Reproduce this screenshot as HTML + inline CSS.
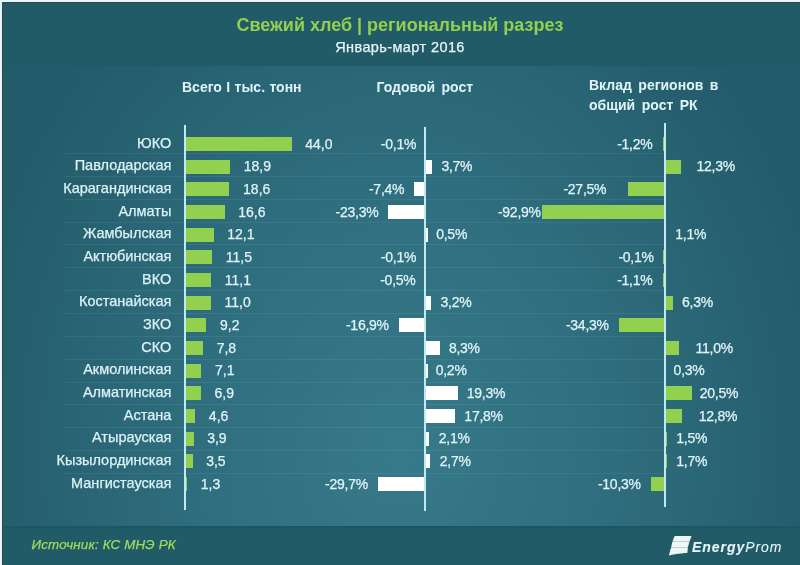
<!DOCTYPE html>
<html><head><meta charset="utf-8"><title>Свежий хлеб | региональный разрез</title>
<style>
*{margin:0;padding:0;box-sizing:border-box}
html,body{width:800px;height:565px;overflow:hidden;background:#215b68}
body{position:relative;-webkit-text-stroke:0.25px currentColor;font-family:"Liberation Sans","DejaVu Sans",sans-serif;color:#e0f4f8}
#bg{position:absolute;left:0;top:0;width:800px;height:565px;background:#215b68}
#band{position:absolute;left:2px;top:66px;width:798px;height:460px;
 background:radial-gradient(ellipse 440px 560px at 398px 380px,#377a8a 0%,#2e6d7d 50%,#235b6a 100%)}
#bandt{position:absolute;left:2px;top:64.5px;width:798px;height:1.5px;background:#1f5866}
#bandb{position:absolute;left:2px;top:526px;width:798px;height:1.5px;background:#1d5565}
#topw{position:absolute;left:0;top:0;width:800px;height:2px;background:#e4f6f6}
#leftw{position:absolute;left:0;top:0;width:2px;height:565px;background:#e4f6f6}
#topd{position:absolute;left:2px;top:2px;width:798px;height:1px;background:#254a50}
#topd2{position:absolute;left:2px;top:3px;width:798px;height:1px;background:#2a5560}
#leftd{position:absolute;left:2px;top:2px;width:1px;height:563px;background:#2a4a50}
#leftd2{position:absolute;left:3px;top:3px;width:1px;height:562px;background:#2c5862}
.sep{position:absolute;left:64px;width:600px;height:1px;background:rgba(190,235,240,0.085)}
.t{position:absolute;font-size:14px;line-height:20px;white-space:nowrap}
.r{text-align:right}
.n{font-size:14.5px;color:#dcf2f6}
.p{letter-spacing:-0.25px}
.b{position:absolute;height:14.2px}
.g{background:#92d050}
.w{background:#ffffff}
.ax{position:absolute;width:2px;background:#bfeaf2}
.h{position:absolute;-webkit-text-stroke:0;font-weight:bold;font-size:14px;line-height:20px;white-space:nowrap}
#title{position:absolute;-webkit-text-stroke:0;left:0;width:800px;top:13px;text-align:center;font-weight:bold;font-size:18px;line-height:24px;color:#92d050}
#sub{position:absolute;left:0;width:800px;top:37px;text-align:center;font-size:14.5px;line-height:20px;letter-spacing:0.4px;color:#e8f6f8}
#src{position:absolute;left:31.5px;top:535px;font-style:italic;font-size:13.4px;letter-spacing:0.15px;line-height:20px;color:#a0dc5c;white-space:nowrap}
#logo{position:absolute;left:668px;top:535px;width:25px;height:21px}
#lt{position:absolute;-webkit-text-stroke:0.1px currentColor;left:692px;top:537px;font-style:italic;font-size:14px;letter-spacing:0.95px;line-height:20px;color:#e6f4f6;white-space:nowrap}
</style></head><body>
<div id="bg"></div>
<div id="band"></div>
<div id="bandt"></div><div id="bandb"></div>
<div id="topw"></div><div id="leftw"></div><div id="topd"></div><div id="topd2"></div><div id="leftd"></div><div id="leftd2"></div>
<div id="title">Свежий хлеб | региональный разрез</div>
<div id="sub">Январь-март 2016</div>
<div class="h" style="left:182px;top:76.5px;word-spacing:0.5px">Всего I тыс. тонн</div>
<div class="h" style="left:376.5px;top:76.5px;word-spacing:2.5px">Годовой рост</div>
<div class="h" style="left:589px;top:74.5px;word-spacing:2.6px">Вклад регионов в<br>общий рост РК</div>
<div class="sep" style="top:153.1px"></div>
<div class="sep" style="top:175.94px"></div>
<div class="sep" style="top:198.78px"></div>
<div class="sep" style="top:221.62px"></div>
<div class="sep" style="top:244.46px"></div>
<div class="sep" style="top:267.3px"></div>
<div class="sep" style="top:290.14px"></div>
<div class="sep" style="top:312.98px"></div>
<div class="sep" style="top:335.82px"></div>
<div class="sep" style="top:358.66px"></div>
<div class="sep" style="top:381.5px"></div>
<div class="sep" style="top:404.34px"></div>
<div class="sep" style="top:427.18px"></div>
<div class="sep" style="top:450.02px"></div>
<div class="sep" style="top:472.86px"></div>
<div class="t r n" style="top:132.55px;right:628.7px">ЮКО</div>
<div class="b g" style="top:136.9px;left:184px;width:107.58px"></div>
<div class="t" style="top:133.65px;left:305.18px">44,0</div>
<div class="t r p" style="top:133.65px;right:383.84px">-0,1%</div>
<div class="b g" style="top:136.9px;left:662.5px;width:2.2px"></div>
<div class="t r p" style="top:133.65px;right:147.55px">-1,2%</div>
<div class="t r n" style="top:155.22px;right:628.7px">Павлодарская</div>
<div class="b g" style="top:159.57px;left:184px;width:46.21px"></div>
<div class="t" style="top:156.32px;left:243.81px">18,9</div>
<div class="b w" style="top:159.57px;left:426.07px;width:6.03px"></div>
<div class="t p" style="top:156.32px;left:441.4px">3,7%</div>
<div class="b g" style="top:159.57px;left:664.7px;width:16.24px"></div>
<div class="t p" style="top:156.32px;left:696.5px">12,3%</div>
<div class="t r n" style="top:177.89px;right:628.7px">Карагандинская</div>
<div class="b g" style="top:182.24px;left:184px;width:45.48px"></div>
<div class="t" style="top:178.99px;left:243.08px">18,6</div>
<div class="b w" style="top:182.24px;left:414.02px;width:12.05px"></div>
<div class="t r p" style="top:178.99px;right:395.73px">-7,4%</div>
<div class="b g" style="top:182.24px;left:628.39px;width:36.31px"></div>
<div class="t r p" style="top:178.99px;right:193.75px">-27,5%</div>
<div class="t r n" style="top:200.56px;right:628.7px">Алматы</div>
<div class="b g" style="top:204.91px;left:184px;width:40.59px"></div>
<div class="t" style="top:201.66px;left:238.19px">16,6</div>
<div class="b w" style="top:204.91px;left:388.11px;width:37.96px"></div>
<div class="t r p" style="top:201.66px;right:421.64px">-23,3%</div>
<div class="b g" style="top:204.91px;left:542.03px;width:122.67px"></div>
<div class="t r p" style="top:201.66px;right:259.25px">-92,9%</div>
<div class="t r n" style="top:223.23px;right:628.7px">Жамбылская</div>
<div class="b g" style="top:227.58px;left:184px;width:29.58px"></div>
<div class="t" style="top:224.33px;left:227.18px">12,1</div>
<div class="b w" style="top:227.58px;left:426.07px;width:1.6px"></div>
<div class="t p" style="top:224.33px;left:436.18px">0,5%</div>
<div class="b g" style="top:227.58px;left:664.7px;width:1.45px"></div>
<div class="t p" style="top:224.33px;left:675.3px">1,1%</div>
<div class="t r n" style="top:245.9px;right:628.7px">Актюбинская</div>
<div class="b g" style="top:250.25px;left:184px;width:28.12px"></div>
<div class="t" style="top:247px;left:225.72px">11,5</div>
<div class="t r p" style="top:247px;right:383.84px">-0,1%</div>
<div class="b g" style="top:250.25px;left:662.5px;width:2.2px"></div>
<div class="t r p" style="top:247px;right:146.25px">-0,1%</div>
<div class="t r n" style="top:268.57px;right:628.7px">ВКО</div>
<div class="b g" style="top:272.92px;left:184px;width:27.14px"></div>
<div class="t" style="top:269.67px;left:224.74px">11,1</div>
<div class="t r p" style="top:269.67px;right:384.49px">-0,5%</div>
<div class="b g" style="top:272.92px;left:662.5px;width:2.2px"></div>
<div class="t r p" style="top:269.67px;right:147.55px">-1,1%</div>
<div class="t r n" style="top:291.24px;right:628.7px">Костанайская</div>
<div class="b g" style="top:295.59px;left:184px;width:26.89px"></div>
<div class="t" style="top:292.34px;left:224.5px">11,0</div>
<div class="b w" style="top:295.59px;left:426.07px;width:5.21px"></div>
<div class="t p" style="top:292.34px;left:440.58px">3,2%</div>
<div class="b g" style="top:295.59px;left:664.7px;width:8.32px"></div>
<div class="t p" style="top:292.34px;left:682px">6,3%</div>
<div class="t r n" style="top:313.91px;right:628.7px">ЗКО</div>
<div class="b g" style="top:318.26px;left:184px;width:22.49px"></div>
<div class="t" style="top:315.01px;left:220.09px">9,2</div>
<div class="b w" style="top:318.26px;left:398.54px;width:27.53px"></div>
<div class="t r p" style="top:315.01px;right:411.21px">-16,9%</div>
<div class="b g" style="top:318.26px;left:619.41px;width:45.29px"></div>
<div class="t r p" style="top:315.01px;right:191.25px">-34,3%</div>
<div class="t r n" style="top:336.58px;right:628.7px">СКО</div>
<div class="b g" style="top:340.93px;left:184px;width:19.07px"></div>
<div class="t" style="top:337.68px;left:216.67px">7,8</div>
<div class="b w" style="top:340.93px;left:426.07px;width:13.52px"></div>
<div class="t p" style="top:337.68px;left:448.89px">8,3%</div>
<div class="b g" style="top:340.93px;left:664.7px;width:14.53px"></div>
<div class="t p" style="top:337.68px;left:695.5px">11,0%</div>
<div class="t r n" style="top:359.25px;right:628.7px">Акмолинская</div>
<div class="b g" style="top:363.6px;left:184px;width:17.36px"></div>
<div class="t" style="top:360.35px;left:214.96px">7,1</div>
<div class="b w" style="top:363.6px;left:426.07px;width:1.6px"></div>
<div class="t p" style="top:360.35px;left:435.7px">0,2%</div>
<div class="b g" style="top:363.6px;left:664.7px;width:0.4px"></div>
<div class="t p" style="top:360.35px;left:673.6px">0,3%</div>
<div class="t r n" style="top:381.92px;right:628.7px">Алматинская</div>
<div class="b g" style="top:386.27px;left:184px;width:16.87px"></div>
<div class="t" style="top:383.02px;left:214.47px">6,9</div>
<div class="b w" style="top:386.27px;left:426.07px;width:31.44px"></div>
<div class="t p" style="top:383.02px;left:466.81px">19,3%</div>
<div class="b g" style="top:386.27px;left:664.7px;width:27.07px"></div>
<div class="t p" style="top:383.02px;left:699.8px">20,5%</div>
<div class="t r n" style="top:404.59px;right:628.7px">Астана</div>
<div class="b g" style="top:408.94px;left:184px;width:11.25px"></div>
<div class="t" style="top:405.69px;left:208.85px">4,6</div>
<div class="b w" style="top:408.94px;left:426.07px;width:29px"></div>
<div class="t p" style="top:405.69px;left:464.37px">17,8%</div>
<div class="b g" style="top:408.94px;left:664.7px;width:16.9px"></div>
<div class="t p" style="top:405.69px;left:698.8px">12,8%</div>
<div class="t r n" style="top:427.26px;right:628.7px">Атырауская</div>
<div class="b g" style="top:431.61px;left:184px;width:9.54px"></div>
<div class="t" style="top:428.36px;left:207.14px">3,9</div>
<div class="b w" style="top:431.61px;left:426.07px;width:3.42px"></div>
<div class="t p" style="top:428.36px;left:438.79px">2,1%</div>
<div class="b g" style="top:431.61px;left:664.7px;width:1.98px"></div>
<div class="t p" style="top:428.36px;left:676.3px">1,5%</div>
<div class="t r n" style="top:449.93px;right:628.7px">Кызылординская</div>
<div class="b g" style="top:454.28px;left:184px;width:8.56px"></div>
<div class="t" style="top:451.03px;left:206.16px">3,5</div>
<div class="b w" style="top:454.28px;left:426.07px;width:4.4px"></div>
<div class="t p" style="top:451.03px;left:439.77px">2,7%</div>
<div class="b g" style="top:454.28px;left:664.7px;width:2.24px"></div>
<div class="t p" style="top:451.03px;left:676.3px">1,7%</div>
<div class="t r n" style="top:472.6px;right:628.7px">Мангистауская</div>
<div class="b g" style="top:476.95px;left:184px;width:3.18px"></div>
<div class="t" style="top:473.7px;left:200.78px">1,3</div>
<div class="b w" style="top:476.95px;left:377.69px;width:48.38px"></div>
<div class="t r p" style="top:473.7px;right:432.06px">-29,7%</div>
<div class="b g" style="top:476.95px;left:651.1px;width:13.6px"></div>
<div class="t r p" style="top:473.7px;right:159.25px">-10,3%</div>
<div class="ax" style="left:184px;top:125px;height:385px"></div>
<div class="ax" style="left:424px;top:127px;height:384px"></div>
<div class="ax" style="left:663.5px;top:122.5px;height:384px"></div>
<div id="src">Источник: КС МНЭ РК</div>
<svg id="logo" viewBox="0 0 25 21">
<path d="M7.6 1 H23.5 L19.7 12.8 L19.2 18 C13 18.2 5 19 1 20.6 L6.2 2.2 Q6.7 1 7.6 1 Z" fill="#b8a8b0"/>
<path d="M7.6 1 H23.5 L21.3 6.2 H4.6 L6.2 2.2 Q6.7 1 7.6 1 Z" fill="#ecf8f8"/>
<path d="M4.4 6.8 H21.1 L19.8 12.2 H3.2 Z" fill="#ecf8f8"/>
<path d="M3 12.8 H19.7 L19.2 18 C13 18.2 5 19 1 20.6 Z" fill="#ecf8f8"/>
</svg>
<div id="lt"><b>Energy</b>Prom</div>
</body></html>
